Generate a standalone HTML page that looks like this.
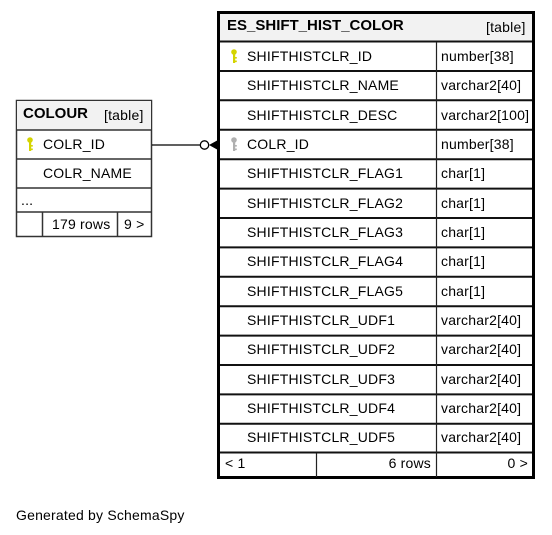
<!DOCTYPE html>
<html><head><meta charset="utf-8"><style>
html,body{margin:0;padding:0;background:#fff;width:552px;height:535px;overflow:hidden}
svg{display:block}
text{font-family:"Liberation Sans",Arial,sans-serif;font-size:14px;letter-spacing:0.2px;fill:#000}
.b{font-weight:bold;font-size:15px;letter-spacing:0}
</style></head><body>
<svg width="552" height="535" viewBox="0 0 552 535" xmlns="http://www.w3.org/2000/svg">
<defs>
<g id="key"><circle cx="0" cy="0" r="2.8"/><rect x="-1" y="1" width="2.2" height="10"/><rect x="0" y="5" width="2.8" height="1.6"/><rect x="0" y="8.5" width="2.8" height="1.6"/></g>
</defs>
<!-- COLOUR table -->
<rect x="16.5" y="100.5" width="135" height="136" fill="#fff" stroke="#333" stroke-width="1.5"/>
<rect x="17" y="101" width="134" height="29" fill="#f2f2f2"/>
<g stroke="#333" stroke-width="1.5">
<line x1="16" y1="130" x2="152" y2="130"/>
<line x1="16" y1="159" x2="152" y2="159"/>
<line x1="16" y1="188" x2="152" y2="188"/>
<line x1="16" y1="212" x2="152" y2="212"/>
<line x1="42.5" y1="212" x2="42.5" y2="237"/>
<line x1="117.5" y1="212" x2="117.5" y2="237"/>
</g>
<text x="23" y="118" class="b">COLOUR</text>
<text x="104" y="120">[table]</text>
<g fill="#d4d400" transform="translate(30,140)"><use href="#key"/></g>
<text x="43" y="149">COLR_ID</text>
<text x="43" y="178">COLR_NAME</text>
<text x="21" y="205">...</text>
<text x="52" y="229">179 rows</text>
<text x="124" y="229">9 &gt;</text>
<!-- connector -->
<line x1="152" y1="145" x2="200" y2="145" stroke="#000" stroke-width="1.3"/>
<circle cx="204.5" cy="145" r="4.2" fill="#fff" stroke="#000" stroke-width="1.3"/>
<path d="M209 145 L218 140 L218 150 Z" fill="#000"/>
<!-- big table -->
<rect x="218.5" y="12.5" width="315" height="465" fill="#fff" stroke="#000" stroke-width="3"/>
<rect x="220" y="14" width="312" height="27" fill="#f2f2f2"/>
<g stroke="#111" stroke-width="2">
<line x1="220" y1="41.5" x2="532" y2="41.5"/>
<line x1="220" y1="71" x2="532" y2="71"/>
<line x1="220" y1="100.3" x2="532" y2="100.3"/>
<line x1="220" y1="129.8" x2="532" y2="129.8"/>
<line x1="220" y1="159.2" x2="532" y2="159.2"/>
<line x1="220" y1="188.6" x2="532" y2="188.6"/>
<line x1="220" y1="218" x2="532" y2="218"/>
<line x1="220" y1="247.4" x2="532" y2="247.4"/>
<line x1="220" y1="276.8" x2="532" y2="276.8"/>
<line x1="220" y1="306.2" x2="532" y2="306.2"/>
<line x1="220" y1="335.6" x2="532" y2="335.6"/>
<line x1="220" y1="365" x2="532" y2="365"/>
<line x1="220" y1="394.4" x2="532" y2="394.4"/>
<line x1="220" y1="423.8" x2="532" y2="423.8"/>
<line x1="220" y1="452.5" x2="532" y2="452.5"/>
</g>
<g stroke="#222" stroke-width="1.2">
<line x1="436.5" y1="42" x2="436.5" y2="477"/>
<line x1="316.5" y1="453" x2="316.5" y2="477"/>
</g>
<text x="227" y="30" class="b">ES_SHIFT_HIST_COLOR</text>
<text x="486" y="32">[table]</text>
<g fill="#d4d400" transform="translate(234,52)"><use href="#key"/></g>
<g fill="#b0b0b0" transform="translate(234,140)"><use href="#key"/></g>
<g>
<text x="247" y="61">SHIFTHISTCLR_ID</text><text x="441" y="61">number[38]</text>
<text x="247" y="90">SHIFTHISTCLR_NAME</text><text x="441" y="90">varchar2[40]</text>
<text x="247" y="120">SHIFTHISTCLR_DESC</text><text x="441" y="120">varchar2[100]</text>
<text x="247" y="149">COLR_ID</text><text x="441" y="149">number[38]</text>
<text x="247" y="178">SHIFTHISTCLR_FLAG1</text><text x="441" y="178">char[1]</text>
<text x="247" y="208">SHIFTHISTCLR_FLAG2</text><text x="441" y="208">char[1]</text>
<text x="247" y="237">SHIFTHISTCLR_FLAG3</text><text x="441" y="237">char[1]</text>
<text x="247" y="266">SHIFTHISTCLR_FLAG4</text><text x="441" y="266">char[1]</text>
<text x="247" y="296">SHIFTHISTCLR_FLAG5</text><text x="441" y="296">char[1]</text>
<text x="247" y="325">SHIFTHISTCLR_UDF1</text><text x="441" y="325">varchar2[40]</text>
<text x="247" y="354">SHIFTHISTCLR_UDF2</text><text x="441" y="354">varchar2[40]</text>
<text x="247" y="384">SHIFTHISTCLR_UDF3</text><text x="441" y="384">varchar2[40]</text>
<text x="247" y="413">SHIFTHISTCLR_UDF4</text><text x="441" y="413">varchar2[40]</text>
<text x="247" y="442">SHIFTHISTCLR_UDF5</text><text x="441" y="442">varchar2[40]</text>
</g>
<text x="225" y="468">&lt; 1</text>
<text x="431" y="468" text-anchor="end">6 rows</text>
<text x="528" y="468" text-anchor="end">0 &gt;</text>
<text x="16" y="520">Generated by SchemaSpy</text>
</svg>
</body></html>
